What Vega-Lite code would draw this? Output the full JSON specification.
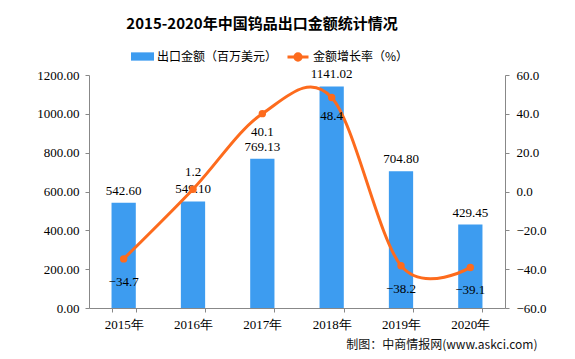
{
  "$schema": "https://vega.github.io/schema/vega-lite/v6.json",
  "width": 416,
  "height": 233,
  "autosize": {"type": "none"},
  "padding": {"left": 89, "top": 75, "right": 70, "bottom": 51},
  "background": "white",
  "title": {
    "text": "2015-2020年中国钨品出口金额统计情况",
    "font": "Noto Sans CJK SC",
    "fontSize": 15,
    "fontWeight": "bold",
    "color": "#000000",
    "anchor": "middle",
    "frame": "group",
    "dx": -35,
    "offset": 13
  },
  "data": {
    "values": [
      {"year": "2015年", "amount": 542.60, "growth": -34.7},
      {"year": "2016年", "amount": 549.10, "growth": 1.2},
      {"year": "2017年", "amount": 769.13, "growth": 40.1},
      {"year": "2018年", "amount": 1141.02, "growth": 48.4},
      {"year": "2019年", "amount": 704.80, "growth": -38.2},
      {"year": "2020年", "amount": 429.45, "growth": -39.1}
    ]
  },
  "encoding": {
    "x": {
      "field": "year",
      "type": "nominal",
      "sort": null,
      "scale": {"paddingInner": 0.65, "paddingOuter": 0.325},
      "axis": {
        "title": "制图：中商情报网(www.askci.com)",
        "titleFont": "Noto Sans CJK SC",
        "titleFontSize": 12,
        "titleFontWeight": "normal",
        "titleColor": "#111111",
        "titleAnchor": "end",
        "titleAlign": "right",
        "titleBaseline": "middle",
        "titleX": 448,
        "titleY": 36,
        "labelAngle": 0,
        "labelFont": "Liberation Serif",
        "labelFontSize": 13,
        "labelColor": "#000000",
        "labelPadding": 6,
        "domainColor": "#888888",
        "tickColor": "#888888",
        "tickSize": 4,
        "tickBand": "extent",
        "grid": false
      }
    }
  },
  "layer": [
    {
      "encoding": {
        "y": {
          "field": "amount",
          "type": "quantitative",
          "scale": {"domain": [0, 1200], "nice": false},
          "axis": {
            "title": null,
            "values": [0, 200, 400, 600, 800, 1000, 1200],
            "labelOverlap": false,
            "format": ".2f",
            "labelFont": "Liberation Serif",
            "labelFontSize": 13,
            "labelColor": "#000000",
            "labelPadding": 6,
            "domainColor": "#888888",
            "tickColor": "#888888",
            "tickSize": 4,
            "grid": false
          }
        }
      },
      "layer": [
        {
          "mark": {"type": "bar"},
          "encoding": {
            "color": {
              "datum": "出口金额（百万美元）",
              "type": "nominal",
              "scale": {"range": ["#3d9cf0"]},
              "legend": {
                "orient": "none",
                "legendX": 42,
                "legendY": -30,
                "title": null,
                "symbolType": "M-1,-0.36H1V0.36H-1Z",
                "symbolSize": 529,
                "symbolStrokeWidth": 0,
                "labelFont": "Noto Sans CJK SC",
                "labelFontSize": 12,
                "labelColor": "#000000",
                "labelOffset": 3
              }
            }
          }
        },
        {
          "mark": {"type": "text", "baseline": "bottom", "dy": -5, "font": "Liberation Serif", "fontSize": 13, "color": "#000000"},
          "encoding": {
            "text": {"field": "amount", "type": "quantitative", "format": ".2f"}
          }
        }
      ]
    },
    {
      "encoding": {
        "y": {
          "field": "growth",
          "type": "quantitative",
          "scale": {"domain": [-60, 60], "nice": false},
          "axis": {
            "orient": "right",
            "title": null,
            "values": [-60, -40, -20, 0, 20, 40, 60],
            "labelOverlap": false,
            "format": ".1f",
            "labelFont": "Liberation Serif",
            "labelFontSize": 13,
            "labelColor": "#000000",
            "labelPadding": 7,
            "domainColor": "#888888",
            "tickColor": "#888888",
            "tickSize": 4,
            "grid": false
          }
        }
      },
      "layer": [
        {
          "mark": {"type": "line", "interpolate": "cardinal", "tension": 0, "strokeWidth": 3},
          "encoding": {
            "stroke": {
              "datum": "金额增长率（%）",
              "type": "nominal",
              "scale": {"range": ["#fd6b1d"]},
              "legend": {
                "orient": "none",
                "legendX": 197,
                "legendY": -30,
                "title": null,
                "symbolType": "M-1,0H1M-0.3,0A0.3,0.3,0,1,0,0.3,0A0.3,0.3,0,1,0,-0.3,0Z",
                "symbolSize": 441,
                "symbolStrokeWidth": 3,
                "symbolFillColor": "#fd6b1d",
                "labelFont": "Noto Sans CJK SC",
                "labelFontSize": 12,
                "labelColor": "#000000",
                "labelOffset": 3
              }
            }
          }
        },
        {
          "mark": {"type": "point", "filled": true, "size": 55, "color": "#fd6b1d", "opacity": 1}
        },
        {
          "transform": [{"filter": "datum.year === '2016年'"}],
          "mark": {"type": "text", "baseline": "middle", "dy": -17, "font": "Liberation Serif", "fontSize": 13, "color": "#000000"},
          "encoding": {
            "text": {"field": "growth", "type": "quantitative", "format": ".1f"}
          }
        },
        {
          "transform": [{"filter": "datum.year === '2017年' || datum.year === '2018年'"}],
          "mark": {"type": "text", "baseline": "middle", "dy": 18, "font": "Liberation Serif", "fontSize": 13, "color": "#000000"},
          "encoding": {
            "text": {"field": "growth", "type": "quantitative", "format": ".1f"}
          }
        },
        {
          "transform": [{"filter": "datum.year === '2015年' || datum.year === '2019年' || datum.year === '2020年'"}],
          "mark": {"type": "text", "baseline": "middle", "dy": 23, "font": "Liberation Serif", "fontSize": 13, "color": "#000000"},
          "encoding": {
            "text": {"field": "growth", "type": "quantitative", "format": ".1f"}
          }
        }
      ]
    }
  ],
  "resolve": {"scale": {"y": "independent"}},
  "config": {"view": {"stroke": null}}
}
